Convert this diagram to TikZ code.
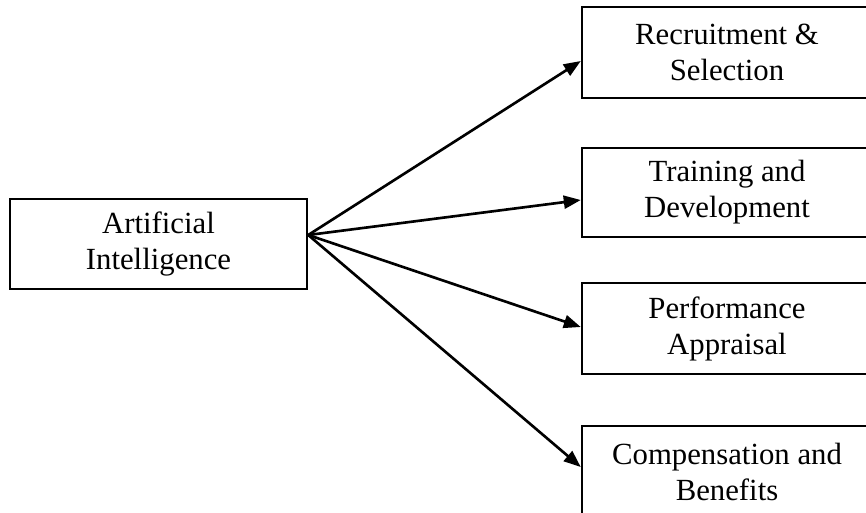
\documentclass[tikz,border=0pt]{standalone}
\usepackage{fontspec}
\setmainfont{Liberation Serif}
\usetikzlibrary{arrows.meta,positioning,calc}
\tikzset{
  box/.style={draw=black,line width=1.4pt,align=center,fill=white,
              minimum width=5.8cm,minimum height=1.82cm,inner sep=2pt,
              font=\fontsize{17.5}{20.5}\selectfont},
  arr/.style={-{Triangle[length=3.4mm,width=2.6mm]},line width=1.5pt,black}
}
\begin{document}
\begin{tikzpicture}
    \useasboundingbox (0,0) rectangle (17.32,-10.24);
    \node[box,minimum width=5.94cm,minimum height=1.8cm] (ai) at (3.17,-4.88)
         {Artificial\\Intelligence};
    \node[box] (rec) at (14.54,-1.05) {Recruitment \&\\Selection};
    \node[box,minimum height=1.78cm] (trd) at (14.54,-3.85) {Training and\\Development};
    \node[box] (per) at (14.54,-6.57) {Performance\\Appraisal};
    \node[box] (com) at (14.54,-9.43) {Compensation and\\Benefits};
    \coordinate (src) at ($(ai.east)+(0,0.18)$);
    \draw[arr] (src) -- ($(rec.west)+(0,-0.17)$);
    \draw[arr] (src) -- ($(trd.west)+(0,-0.15)$);
    \draw[arr] (src) -- ($(per.west)+(0,0.03)$);
    \draw[arr] (src) -- ($(com.west)+(0,0.09)$);
\end{tikzpicture}
\end{document}
